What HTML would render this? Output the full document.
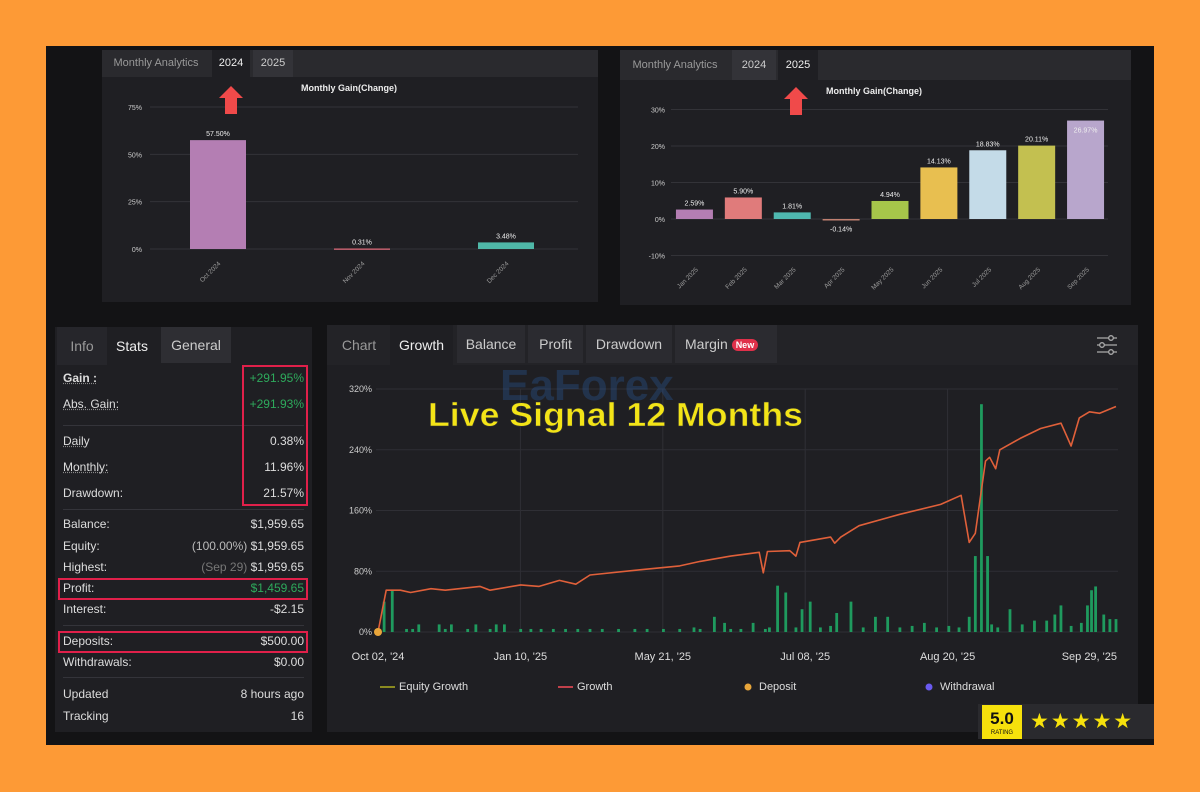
<!DOCTYPE html>
<html><head><meta charset="utf-8">
<style>
*{margin:0;padding:0;box-sizing:border-box}
body{width:1200px;height:792px;background:#fd9a36;position:relative;overflow:hidden;font-family:"Liberation Sans",sans-serif}
.abs{position:absolute}
.panel{position:absolute;background:#1f1f23}
.tabbar{position:absolute;left:0;right:0;top:0;background:#2a2a2e}
.tab{position:absolute;top:0;color:#bbb;text-align:center}
.row{position:absolute;left:8px;right:8px;font-size:12px;color:#ddd;height:16px}
.row .l{position:absolute;left:0}
.row .r{position:absolute;right:0}
.u{text-decoration:underline dotted #888}
.sep{position:absolute;left:8px;right:8px;height:1px;background:#34343a}
.redbox{position:absolute;border:2px solid #e0204a}
</style></head><body>
<div class="abs" style="left:46px;top:46px;width:1108px;height:699px;background:#131315"></div>

<div class="panel" style="left:102px;top:50px;width:496px;height:252px">
 <div class="tabbar" style="height:27px">
  <div class="tab" style="left:0;width:108px;height:27px;line-height:27px;font-size:11px;color:#999">Monthly Analytics</div>
  <div class="tab" style="left:110px;width:38px;height:27px;line-height:27px;font-size:11px;background:#1f1f23;color:#eee">2024</div>
  <div class="tab" style="left:151px;width:40px;height:27px;line-height:27px;font-size:11px;background:#333338;color:#ccc">2025</div>
 </div>
</div>
<div class="panel" style="left:620px;top:50px;width:511px;height:255px">
 <div class="tabbar" style="height:30px">
  <div class="tab" style="left:0;width:110px;height:30px;line-height:30px;font-size:11px;color:#999">Monthly Analytics</div>
  <div class="tab" style="left:112px;width:44px;height:30px;line-height:30px;font-size:11px;background:#333338;color:#ccc">2024</div>
  <div class="tab" style="left:158px;width:40px;height:30px;line-height:30px;font-size:11px;background:#1f1f23;color:#eee">2025</div>
 </div>
</div>

<div class="panel" style="left:55px;top:327px;width:257px;height:405px">
 <div class="tabbar" style="height:38px;background:#1f1f23">
  <div class="tab" style="left:2px;width:50px;height:38px;line-height:38px;font-size:14px;background:#26262b;color:#999">Info</div>
  <div class="tab" style="left:52px;width:50px;height:38px;line-height:38px;font-size:14px;color:#eee">Stats</div>
  <div class="tab" style="left:106px;width:70px;height:36px;line-height:36px;font-size:14px;background:#2e2e33;color:#ccc">General</div>
 </div>
 <div class="row" style="top:44px"><span class="l u" style="font-weight:bold">Gain :</span><span class="r" style="color:#2eaa5c">+291.95%</span></div>
 <div class="row" style="top:70px"><span class="l u">Abs. Gain:</span><span class="r" style="color:#2eaa5c">+291.93%</span></div>
 <div class="sep" style="top:98px"></div>
 <div class="row" style="top:107px"><span class="l u">Daily</span><span class="r">0.38%</span></div>
 <div class="row" style="top:133px"><span class="l u">Monthly:</span><span class="r">11.96%</span></div>
 <div class="row" style="top:159px"><span class="l">Drawdown:</span><span class="r">21.57%</span></div>
 <div class="sep" style="top:182px"></div>
 <div class="row" style="top:190px"><span class="l">Balance:</span><span class="r">$1,959.65</span></div>
 <div class="row" style="top:212px"><span class="l">Equity:</span><span class="r"><span style="color:#bbb">(100.00%)</span> $1,959.65</span></div>
 <div class="row" style="top:233px"><span class="l">Highest:</span><span class="r"><span style="color:#777">(Sep 29)</span> $1,959.65</span></div>
 <div class="row" style="top:254px"><span class="l">Profit:</span><span class="r" style="color:#2eaa5c">$1,459.65</span></div>
 <div class="row" style="top:275px"><span class="l">Interest:</span><span class="r">-$2.15</span></div>
 <div class="sep" style="top:298px"></div>
 <div class="row" style="top:307px"><span class="l">Deposits:</span><span class="r">$500.00</span></div>
 <div class="row" style="top:328px"><span class="l">Withdrawals:</span><span class="r">$0.00</span></div>
 <div class="sep" style="top:350px"></div>
 <div class="row" style="top:360px"><span class="l">Updated</span><span class="r">8 hours ago</span></div>
 <div class="row" style="top:382px"><span class="l">Tracking</span><span class="r">16</span></div>
</div>
<div class="redbox" style="left:242px;top:365px;width:66px;height:141px"></div>
<div class="redbox" style="left:58px;top:578px;width:250px;height:22px"></div>
<div class="redbox" style="left:58px;top:631px;width:250px;height:22px"></div>

<div class="panel" style="left:327px;top:325px;width:811px;height:407px">
 <div class="tabbar" style="height:40px;background:#232327">
  <div class="tab" style="left:4px;width:56px;height:40px;line-height:40px;font-size:14px;color:#999">Chart</div>
  <div class="tab" style="left:63px;width:63px;height:40px;line-height:40px;font-size:14px;background:#1f1f23;color:#eee">Growth</div>
  <div class="tab" style="left:130px;width:68px;height:38px;line-height:38px;font-size:14px;background:#2b2b30;color:#ccc">Balance</div>
  <div class="tab" style="left:201px;width:55px;height:38px;line-height:38px;font-size:14px;background:#2b2b30;color:#ccc">Profit</div>
  <div class="tab" style="left:259px;width:86px;height:38px;line-height:38px;font-size:14px;background:#2b2b30;color:#ccc">Drawdown</div>
  <div class="tab" style="left:348px;width:102px;height:38px;line-height:38px;font-size:14px;background:#2b2b30;color:#ccc;text-align:left;padding-left:10px">Margin <span style="display:inline-block;background:#e0304a;color:#fff;font-size:9px;font-weight:bold;line-height:12px;padding:0 4px;border-radius:6px;vertical-align:middle">New</span></div>
 </div>
</div>

<svg class="abs" style="left:0;top:0" width="1200" height="792">
 <g id="tl"></g><g id="tr"></g><g id="mc"></g>
 <g stroke="#aaa" stroke-width="1.3" fill="none">
  <line x1="1097" y1="338" x2="1117" y2="338"/><line x1="1097" y1="345" x2="1117" y2="345"/><line x1="1097" y1="352" x2="1117" y2="352"/>
  <circle cx="1111" cy="338" r="2.3" fill="#232327"/><circle cx="1102" cy="345" r="2.3" fill="#232327"/><circle cx="1111" cy="352" r="2.3" fill="#232327"/>
 </g>
 <polygon points="231,86 243,98 237,98 237,114 225,114 225,98 219,98" fill="#f04a4a"/>
 <polygon points="796,87 808,99 802,99 802,115 790,115 790,99 784,99" fill="#f04a4a"/>
 <text x="500" y="400" font-size="44" font-weight="bold" fill="#2a5a9a" opacity="0.35">EaForex</text>
 <text x="428" y="426" font-size="33" font-weight="bold" fill="#f3e417" stroke="#333" stroke-width="0.6" textLength="375" lengthAdjust="spacingAndGlyphs">Live Signal 12 Months</text>
 <g>
  <rect x="978" y="704" width="176" height="35" fill="#2a2a2e"/>
  <rect x="982" y="705" width="40" height="34" fill="#f6e10c"/>
  <text x="1002" y="724" font-size="17" font-weight="bold" text-anchor="middle" fill="#111">5.0</text>
  <text x="1002" y="734" font-size="6" text-anchor="middle" fill="#111">RATING</text>
  <text x="1030" y="728" font-size="21" fill="#f6e10c" letter-spacing="2">★★★★★</text>
 </g>
</svg>

<script>
const NS='http://www.w3.org/2000/svg';
function mk(p,tag,at,txt){const e=document.createElementNS(NS,tag);for(const k in at)e.setAttribute(k,at[k]);if(txt!==undefined)e.textContent=txt;p.appendChild(e);return e;}

const months2024=['Oct 2024','Nov 2024','Dec 2024'];
const gains2024=[57.50,0.31,3.48];
const ticks2024=[0,25,50,75];
const colors2024=['#b47eb3','#c2606e','#4fb8a8'];
const months2025=['Jan 2025','Feb 2025','Mar 2025','Apr 2025','May 2025','Jun 2025','Jul 2025','Aug 2025','Sep 2025'];
const gains2025=[2.59,5.90,1.81,-0.14,4.94,14.13,18.83,20.11,26.97];
const ticks2025=[-10,0,10,20,30];
const colors2025=['#b47eb3','#e07b7b','#4fb8b0','#c08070','#a6c64a','#e8bf50','#c4dbe8','#c3c050','#b8a6cc'];
const growthDays=[0,4,11,16,26,33,50,55,70,79,89,97,104,129,148,158,173,187,189,191,202,205,207,222,224,227,236,256,276,286,290,293,298,300,303,305,315,325,335,340,344,349,354,362];
const growthVals=[0,55,55,52,57,55,60,55,62,60,68,63,75,82,87,93,100,105,78,106,107,100,118,125,117,125,140,155,168,180,118,130,225,230,215,240,255,268,275,245,282,290,288,297];
const barDays=[3,7,14,17,20,30,33,36,44,48,55,58,62,70,75,80,86,92,98,104,110,118,126,132,140,148,155,158,165,170,173,178,184,190,192,196,200,205,208,212,217,222,225,232,238,244,250,256,262,268,274,280,285,290,293,296,299,301,304,310,316,322,328,332,335,340,345,348,350,352,356,359,362];
const barVals=[40,56,4,4,10,10,4,10,4,10,4,10,10,4,4,4,4,4,4,4,4,4,4,4,4,4,6,4,20,12,4,4,12,4,6,61,52,6,30,40,6,8,25,40,6,20,20,6,8,12,6,8,6,20,100,300,100,10,6,30,10,15,15,23,35,8,12,35,55,60,23,17,17];
const growthTicks=[0,80,160,240,320];
const dateLabels=["Oct 02, '24","Jan 10, '25","May 21, '25","Jul 08, '25","Aug 20, '25","Sep 29, '25"];

(function(){
 const g=document.getElementById('tl');
 const y=v=>249-v*(142/75);
 const L=146,W=432,bw=W/months2024.length;
 const xc=i=>L+bw*(i+0.5);
 const t=mk(g,'text',{x:349,y:91,'font-size':9,'font-weight':'bold',fill:'#eee','text-anchor':'middle'},'Monthly Gain(Change)');
 
 ticks2024.forEach(v=>{
  mk(g,'line',{x1:150,x2:578,y1:y(v),y2:y(v),stroke:'#333338','stroke-width':1});
  const tx=mk(g,'text',{x:142,y:y(v)+3,'font-size':7,fill:'#ccc','text-anchor':'end'},v+'%');
  
 });
 months2024.forEach((m,i)=>{
  const v=gains2024[i];const h=Math.max(1.5,Math.abs(v)*(142/75));
  const r=mk(g,'rect',{x:xc(i)-28,y:v>=0?y(v):y(0),width:56,height:h,fill:colors2024[i]});
  
  const lb=mk(g,'text',{x:xc(i),y:y(Math.max(v,0))-4,'font-size':7,fill:'#eee','text-anchor':'middle'},v.toFixed(2)+'%');
  
  const xl=mk(g,'text',{x:xc(i)+3,y:264,'font-size':6.5,fill:'#999','text-anchor':'end',transform:`rotate(-45 ${xc(i)+3} 264)`},m);
  
 });
})();

(function(){
 const g=document.getElementById('tr');
 const k=3.65,y=v=>219-v*k;
 const L=670,W=440,bw=W/months2025.length;
 const xc=i=>L+bw*(i+0.5);
 const t=mk(g,'text',{x:874,y:94,'font-size':9,'font-weight':'bold',fill:'#eee','text-anchor':'middle'},'Monthly Gain(Change)');
 
 ticks2025.forEach(v=>{
  mk(g,'line',{x1:671,x2:1108,y1:y(v),y2:y(v),stroke:'#333338','stroke-width':1});
  const tx=mk(g,'text',{x:665,y:y(v)+3,'font-size':7,fill:'#ccc','text-anchor':'end'},v+'%');
  
 });
 months2025.forEach((m,i)=>{
  const v=gains2025[i];const h=Math.max(1.5,Math.abs(v)*k);
  const r=mk(g,'rect',{x:xc(i)-18.5,y:v>=0?y(v):y(0),width:37,height:h,fill:colors2025[i]});
  
  const top=i===months2025.length-1;
  const ly=v<0?y(v)+12:(top?y(v)+12:y(v)-4);
  const lb=mk(g,'text',{x:xc(i),y:ly,'font-size':7,fill:'#eee','text-anchor':'middle'},v.toFixed(2)+'%');
  
  const xl=mk(g,'text',{x:xc(i)+4,y:270,'font-size':6.5,fill:'#999','text-anchor':'end',transform:`rotate(-45 ${xc(i)+4} 270)`},m);
  
 });
})();

(function(){
 const g=document.getElementById('mc');
 const X0=378,X1=1116,D=362;
 const x=d=>X0+d/D*(X1-X0);
 const y=v=>632-v*(60.75/80);
 growthTicks.forEach(v=>{
  mk(g,'line',{x1:376,x2:1118,y1:y(v),y2:y(v),stroke:'#2f2f35','stroke-width':1});
  const tx=mk(g,'text',{x:372,y:y(v)+3,'font-size':9,fill:'#ccc','text-anchor':'end'},v+'%');
  
 });
 const n=dateLabels.length;
 dateLabels.forEach((s,i)=>{
  const px=X0+(X1-X0-26)*i/(n-1);
  if(i>0&&i<n-1) mk(g,'line',{x1:px,x2:px,y1:389,y2:632,stroke:'#2f2f35','stroke-width':1});
  const tx=mk(g,'text',{x:i===n-1?X1+1:px,y:660,'font-size':11,fill:'#ddd','text-anchor':i===n-1?'end':'middle'},s);
  
 });
 barDays.forEach((d,i)=>{
  const v=barVals[i];
  const r=mk(g,'rect',{x:x(d)-1.4,y:y(v),width:2.8,height:632-y(v),fill:'#1f9a5e'});
  
 });
 const pts=growthDays.map((d,i)=>x(d).toFixed(1)+','+y(growthVals[i]).toFixed(1)).join(' ');
 const pl=mk(g,'polyline',{points:pts,fill:'none',stroke:'#e0603a','stroke-width':1.6,'stroke-linejoin':'round'});
 
 const dp=mk(g,'circle',{cx:x(0),cy:y(0),r:4,fill:'#e8a53a'});
 
 const lg=[['Equity Growth','line','#8a8a20',380],['Growth','line','#c0404a',558],['Deposit','dot','#e8a53a',745],['Withdrawal','dot','#6a5af0',926]];
 lg.forEach(([t,kind,c,lx])=>{
  if(kind==='line') mk(g,'line',{x1:lx,x2:lx+15,y1:687,y2:687,stroke:c,'stroke-width':2});
  else mk(g,'circle',{cx:lx+3,cy:687,r:3.5,fill:c});
  const tx=mk(g,'text',{x:kind==='line'?lx+19:lx+14,y:690,'font-size':11,fill:'#ddd'},t);
  
 });
})();
</script>
</body></html>
